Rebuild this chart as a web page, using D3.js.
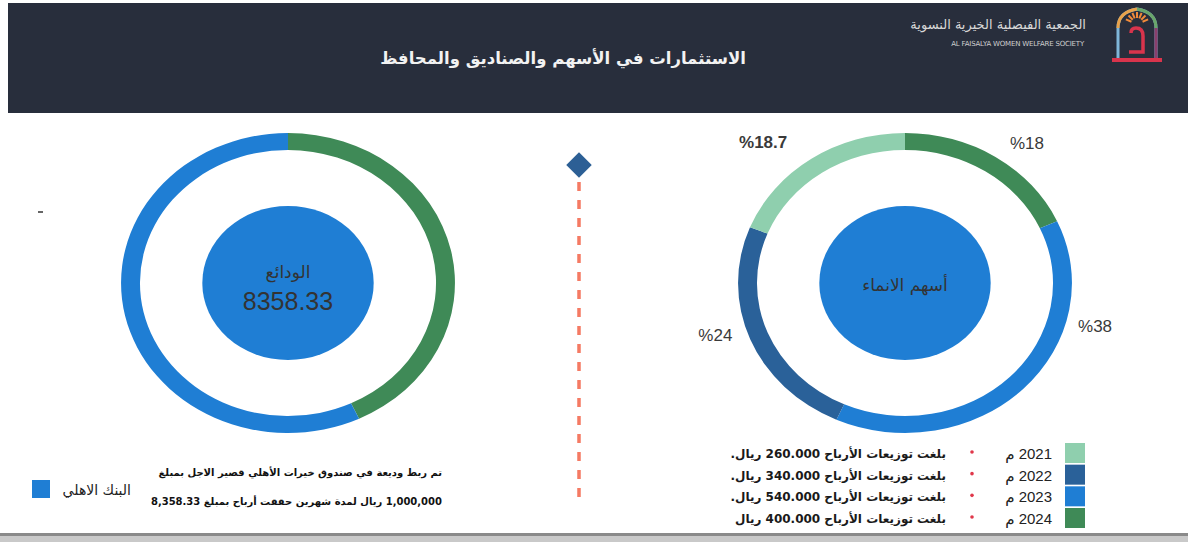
<!DOCTYPE html>
<html>
<head>
<meta charset="utf-8">
<script src="https://d3js.org/d3.v7.min.js"></script>
<style>
  body { margin: 0; background: #fff; }
  svg { display: block; font-family: "DejaVu Sans", "Noto Sans", sans-serif; }
</style>
</head>
<body>
<svg id="chart" width="1188" height="542"></svg>
<script>
// ---- data ----
const shareYears = ["2021", "2022", "2023", "2024"];
const sharePct = [18.7, 24, 38, 18];
const shareLabels = ["%18.7", "%24", "%38", "%18"];
const dividends = ["260.000", "340.000", "540.000", "400.000"];
const shareColors = ["#8fcfae", "#2a6199", "#1f7ed4", "#3f8a57"];

const depositNames = ["البنك الاهلي", "أخرى"];
const depositPct = [57, 43];
const depositColors = ["#1f7ed4", "#3f8a57"];
const depositTotal = "8358.33";

const title = "الاستثمارات في الأسهم والصناديق والمحافظ";
const orgAr = "الجمعية الفيصلية الخيرية النسوية";
const orgEn = "AL FAISALYA WOMEN WELFARE SOCIETY";

// ---- layout ----
const W = 1188, H = 542;
const svg = d3.select("#chart");
const sx = 1.113;            // the scan is a bit stretched sideways
const rOuter = 150, rInner = 133, rCore = 77;
const cy = 283;
const leftCx = 288, rightCx = 905;
const numFont = "Liberation Sans, Arial, DejaVu Sans";

// header band
svg.append("rect").attr("x", 8).attr("y", 3).attr("width", W - 8).attr("height", 110)
  .attr("fill", "#282e3c");
svg.append("text").attr("x", 563).attr("y", 64)
  .attr("text-anchor", "middle").attr("fill", "#f2f2f2")
  .style("font-size", "16.5px").style("font-weight", "bold")
  .text(title);
svg.append("text").attr("x", 1086).attr("y", 29).attr("text-anchor", "end")
  .attr("fill", "#d8d8d8").style("font-size", "13px").text(orgAr);
svg.append("text").attr("x", 1084).attr("y", 46).attr("text-anchor", "end")
  .attr("fill", "#cfcfcf").style("font-size", "7px").style("letter-spacing", "-0.2px").text(orgEn);

// logo (arch)
const logo = svg.append("g").attr("transform", "translate(1137,36)");
logo.append("path").attr("d", "M-19,22 L-19,-8 Q-19,-24 0,-27 Q19,-24 19,-8 L19,22")
  .attr("fill", "none").attr("stroke", "#7fb6d9").attr("stroke-width", 3);
logo.append("path").attr("d", "M-19,-8 Q-19,-24 0,-27").attr("fill", "none")
  .attr("stroke", "#e9a24a").attr("stroke-width", 3);
logo.append("path").attr("d", "M0,-27 Q19,-24 19,-8").attr("fill", "none")
  .attr("stroke", "#6aa56a").attr("stroke-width", 3);
logo.append("path").attr("d", "M19,-8 L19,22").attr("fill", "none")
  .attr("stroke", "#8a3f6c").attr("stroke-width", 3);
logo.append("path").attr("d", "M-8,16 L6,16 L6,0 Q6,-8 -1,-8 Q-6,-8 -6,-3")
  .attr("fill", "none").attr("stroke", "#d9344c").attr("stroke-width", 3.5);
logo.append("rect").attr("x", -25).attr("y", 22).attr("width", 50).attr("height", 4).attr("fill", "#d9344c");
d3.range(7).forEach(i => {
  const a = -Math.PI + (i + 1) * Math.PI / 8;
  logo.append("line")
    .attr("x1", Math.cos(a) * 6).attr("y1", -12 + Math.sin(a) * 6)
    .attr("x2", Math.cos(a) * 12).attr("y2", -12 + Math.sin(a) * 12)
    .attr("stroke", "#f08a3a").attr("stroke-width", 2);
});

// bottom rule
svg.append("rect").attr("x", 0).attr("y", 533).attr("width", W).attr("height", 3).attr("fill", "#8a8a8a");
svg.append("rect").attr("x", 0).attr("y", 536).attr("width", W).attr("height", 6).attr("fill", "#c9c9c9");

// small stray mark on the scan
svg.append("line").attr("x1", 38).attr("x2", 43).attr("y1", 212).attr("y2", 212)
  .attr("stroke", "#333").attr("stroke-width", 1.5);

const arc = d3.arc().innerRadius(rInner).outerRadius(rOuter);
const pie = d3.pie().sort(null).value(d => d.v);

function donut(cx, rows) {
  const g = svg.append("g").attr("transform", `translate(${cx},${cy}) scale(${sx},1)`);
  g.selectAll("path").data(pie(rows)).join("path")
    .attr("d", arc).attr("fill", d => d.data.c);
  g.append("circle").attr("r", rCore).attr("fill", "#1f7ed4");
  return g;
}

// left donut: deposits
const depRows = depositNames.map((n, i) => ({ n, v: depositPct[i], c: depositColors[i] }));
donut(leftCx, [depRows[1], depRows[0]]);
svg.append("text").attr("x", leftCx).attr("y", 278).attr("text-anchor", "middle")
  .attr("fill", "#333").style("font-size", "17px").text("الودائع");
svg.append("text").attr("x", leftCx).attr("y", 310).attr("text-anchor", "middle")
  .attr("fill", "#333").style("font-size", "25px").style("font-family", numFont).text(depositTotal);

// right donut: shares, clockwise from top starting with the latest year
const shareRows = shareYears.map((y, i) => ({ y, v: sharePct[i], c: shareColors[i], l: shareLabels[i] }));
const shareArcs = pie(shareRows.slice().reverse());
donut(rightCx, shareRows.slice().reverse());
svg.append("text").attr("x", rightCx).attr("y", 291).attr("text-anchor", "middle")
  .attr("fill", "#333").style("font-size", "17px").style("font-family", "DejaVu Serif, DejaVu Sans")
  .text("أسهم الانماء");

const labelR = { "2021": 190, "2022": 178, "2023": 176, "2024": 178 };
const labelTurn = { "2021": -0.14, "2022": 0.09, "2023": -0.54, "2024": 0.09 };
svg.selectAll("text.pct").data(shareArcs).join("text")
  .attr("class", "pct")
  .attr("x", d => rightCx + Math.sin((d.startAngle + d.endAngle) / 2 + labelTurn[d.data.y]) * labelR[d.data.y] * sx)
  .attr("y", d => cy - Math.cos((d.startAngle + d.endAngle) / 2 + labelTurn[d.data.y]) * labelR[d.data.y] + 6)
  .attr("text-anchor", "middle").attr("fill", "#3a3a3a")
  .style("font-family", numFont)
  .style("font-size", "17px").style("font-weight", d => d.data.y === "2021" ? "bold" : "normal")
  .text(d => d.data.l);

// divider with diamond
svg.append("line").attr("x1", 579).attr("x2", 579).attr("y1", 182).attr("y2", 500)
  .attr("stroke", "#f57a63").attr("stroke-width", 3.5).attr("stroke-dasharray", "9,9");
svg.append("rect").attr("x", -9).attr("y", -9).attr("width", 18).attr("height", 18)
  .attr("transform", "translate(579,165) rotate(45)").attr("fill", "#2c5f95");

// right legend
const rowY = d3.scalePoint().domain(shareYears).range([453, 518]);
const leg = svg.selectAll("g.leg").data(shareRows).join("g").attr("class", "leg")
  .attr("transform", d => `translate(0,${rowY(d.y)})`);
leg.append("rect").attr("x", 1065).attr("y", -10).attr("width", 20).attr("height", 20)
  .attr("fill", d => d.c);
leg.append("text").attr("x", 1052).attr("y", 6).attr("direction", "rtl").attr("text-anchor", "start")
  .attr("fill", "#222").style("font-size", "15px").style("font-family", numFont).text(d => d.y + " م");
leg.append("circle").attr("cx", 972).attr("cy", -1).attr("r", 1.8).attr("fill", "#e0374a");
leg.append("text").attr("x", 946).attr("y", 5).attr("direction", "rtl").attr("text-anchor", "start")
  .attr("fill", "#1a1a1a").style("font-size", "12px").style("font-weight", "bold")
  .text((d, i) => `بلغت توزيعات الأرباح ${dividends[i]} ريال` + (i < 3 ? "." : ""));

// left legend and note
svg.append("rect").attr("x", 32).attr("y", 480).attr("width", 18).attr("height", 18).attr("fill", depositColors[0]);
svg.append("text").attr("x", 131).attr("y", 495).attr("direction", "rtl").attr("text-anchor", "start")
  .attr("fill", "#222").style("font-size", "14px").text(depositNames[0]);
svg.append("text").attr("x", 442).attr("y", 476).attr("direction", "rtl").attr("text-anchor", "start")
  .attr("fill", "#111").style("font-size", "10px").style("font-weight", "bold")
  .text("تم ربط وديعة في صندوق خيرات الأهلي قصير الاجل بمبلغ");
svg.append("text").attr("x", 442).attr("y", 505).attr("direction", "rtl").attr("text-anchor", "start")
  .attr("fill", "#111").style("font-size", "10px").style("font-weight", "bold")
  .text("1,000,000 ريال لمدة شهرين حققت أرباح بمبلغ 8,358.33");
</script>
</body>
</html>
